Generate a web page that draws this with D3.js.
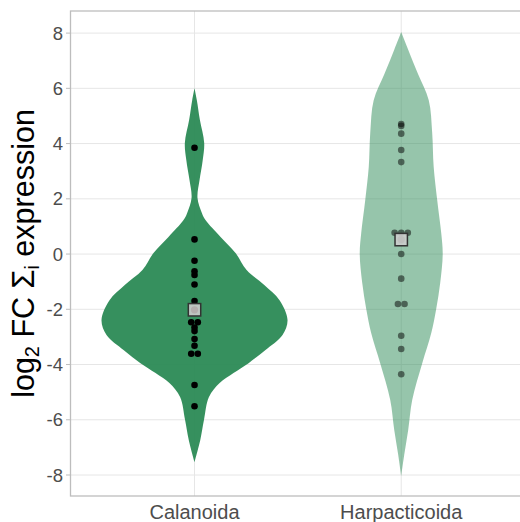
<!DOCTYPE html>
<html><head><meta charset="utf-8">
<script src="https://cdn.jsdelivr.net/npm/d3@7"></script>
<style>
html,body{margin:0;padding:0;background:#fff;}
svg{display:block;font-family:"Liberation Sans",Arial,sans-serif;}
</style></head>
<body>
<svg id="chart" width="520" height="522"></svg>
<script>
// ---- data ----
const categories = ["Calanoida", "Harpacticoida"];
const calanoidaValues = [3.85, 0.53, -0.24, -0.62, -0.76, -1.10, -1.70, -2.47, -2.47, -2.66, -2.79, -3.08, -3.32, -3.61, -3.61, -4.74, -5.51];
const harpacticoidaValues = [4.71, 4.64, 4.36, 3.77, 3.33, 0.77, 0.77, 0.77, 0.0, -0.89, -1.81, -1.81, -2.96, -3.44, -4.35];
// violin outlines: y level and relative density (1 = widest violin)
const calanoidaViolinY = [6.0, 5.57, 4.85, 4.02, 3.4, 2.68, 2.03, 1.48, 1.23, 0.62, 0.04, -0.58, -1.12, -1.67, -2.39, -2.93, -3.48, -3.95, -4.31, -4.67, -5.18, -6.0, -6.73, -7.53];
const calanoidaViolinDensity = [0, 0.025, 0.058, 0.104, 0.088, 0.054, 0.032, 0.08, 0.118, 0.28, 0.441, 0.56, 0.75, 0.914, 1.0, 0.946, 0.76, 0.581, 0.419, 0.27, 0.155, 0.102, 0.062, 0];
const harpacticoidaViolinY = [8.04, 7.4, 6.5, 5.57, 4.38, 3.15, 1.95, 0.76, 0.0, -1.05, -1.99, -2.86, -3.95, -5.28, -6.37, -7.28, -8.04];
const harpacticoidaViolinDensity = [0, 0.075, 0.183, 0.296, 0.333, 0.349, 0.387, 0.43, 0.446, 0.419, 0.376, 0.323, 0.226, 0.118, 0.075, 0.032, 0];
const yTicks = [-8, -6, -4, -2, 0, 2, 4, 6, 8];
const groupFill = ["#2e8b57", "#2e8b57"];
const groupAlpha = [0.96, 0.5];

const seriesValues = [calanoidaValues, harpacticoidaValues];
const violins = [
  d3.zip(calanoidaViolinY, calanoidaViolinDensity),
  d3.zip(harpacticoidaViolinY, harpacticoidaViolinDensity)
];

(function () {
const svg = d3.select("#chart");
const pLeft = 70.5, pTop = 11, pBottom = 496;
const x = d3.scalePoint().domain(categories).range([pLeft, pLeft + 2.2 * 206.7]).padding(0.6);
const y = d3.scaleLinear().domain([-8.76, 8.8]).range([pBottom, pTop]);
const step = x.step();

// grid
const grid = svg.append("g");
grid.selectAll("line.h").data(yTicks).join("line")
  .attr("x1", pLeft).attr("x2", 520).attr("y1", d => y(d)).attr("y2", d => y(d))
  .attr("stroke", "#e6e6e6").attr("stroke-width", 1);
grid.selectAll("line.v").data(categories).join("line")
  .attr("y1", pTop).attr("y2", pBottom).attr("x1", d => x(d)).attr("x2", d => x(d))
  .attr("stroke", "#e6e6e6").attr("stroke-width", 1);

const w = d3.scaleLinear().domain([0, 1]).range([0, 0.45 * step]);
const area = d3.area().curve(d3.curveCatmullRom.alpha(0.5)).y(d => y(d[0]));

categories.forEach((c, gi) => {
  const cx = x(c);
  const g = svg.append("g");
  g.append("path").datum(violins[gi])
    .attr("d", area.x0(d => cx - w(d[1])).x1(d => cx + w(d[1])))
    .attr("fill", groupFill[gi]).attr("fill-opacity", groupAlpha[gi]);
  const counts = d3.rollup(seriesValues[gi], v => v.length, d => d.toFixed(2));
  const seen = new Map();
  const pts = seriesValues[gi].map(v => {
    const k = v.toFixed(2);
    const n = counts.get(k);
    const i = seen.get(k) || 0; seen.set(k, i + 1);
    return {v, off: (i - (n - 1) / 2) * 6.6};
  });
  g.selectAll("circle.pt").data(pts).join("circle")
    .attr("cx", d => cx + d.off).attr("cy", d => y(d.v)).attr("r", 3.3)
    .attr("fill", "#000").attr("fill-opacity", gi === 0 ? 1 : 0.5);
  const m = d3.mean(seriesValues[gi]);
  g.append("rect").attr("x", cx - 6.2).attr("y", y(m) - 6.2).attr("width", 12.4).attr("height", 12.4)
    .attr("fill", "#cccccc").attr("fill-opacity", 0.9).attr("stroke", "#333").attr("stroke-width", 1.5);
  g.append("circle").attr("cx", cx).attr("cy", y(m)).attr("r", 3.6)
    .attr("fill", "#b0a8a8").attr("fill-opacity", gi === 0 ? 0.8 : 0.3);
});

// panel border
svg.append("rect").attr("x", pLeft).attr("y", pTop).attr("width", 2.2 * 206.7).attr("height", pBottom - pTop)
  .attr("fill", "none").attr("stroke", "#bdbdbd").attr("stroke-width", 1.3);

// y axis
const ya = svg.append("g");
ya.selectAll("line").data(yTicks).join("line")
  .attr("x1", pLeft - 4.5).attr("x2", pLeft).attr("y1", d => y(d)).attr("y2", d => y(d))
  .attr("stroke", "#bdbdbd").attr("stroke-width", 1);
ya.selectAll("text").data(yTicks).join("text")
  .attr("x", 63).attr("y", d => y(d)).attr("dy", "0.36em").attr("text-anchor", "end")
  .attr("font-size", 18.5).attr("fill", "#4d4d4d").text(d => d);

// x axis labels
svg.append("g").selectAll("text").data(categories).join("text")
  .attr("x", d => x(d)).attr("y", 519).attr("text-anchor", "middle")
  .attr("font-size", 20).attr("fill", "#4d4d4d").text(d => d);

// y title
const t = svg.append("text").attr("transform", `translate(34,${(pTop + pBottom) / 2}) rotate(-90)`)
  .attr("text-anchor", "middle").attr("font-size", 30.5).attr("fill", "#000");
t.append("tspan").text("log");
t.append("tspan").attr("font-size", 20).attr("dy", 5).text("2");
t.append("tspan").attr("dy", -5).text(" FC Σ");
t.append("tspan").attr("font-size", 20).attr("dy", 5).text("i");
t.append("tspan").attr("dy", -5).text(" expression");
})();
</script>
</body></html>
